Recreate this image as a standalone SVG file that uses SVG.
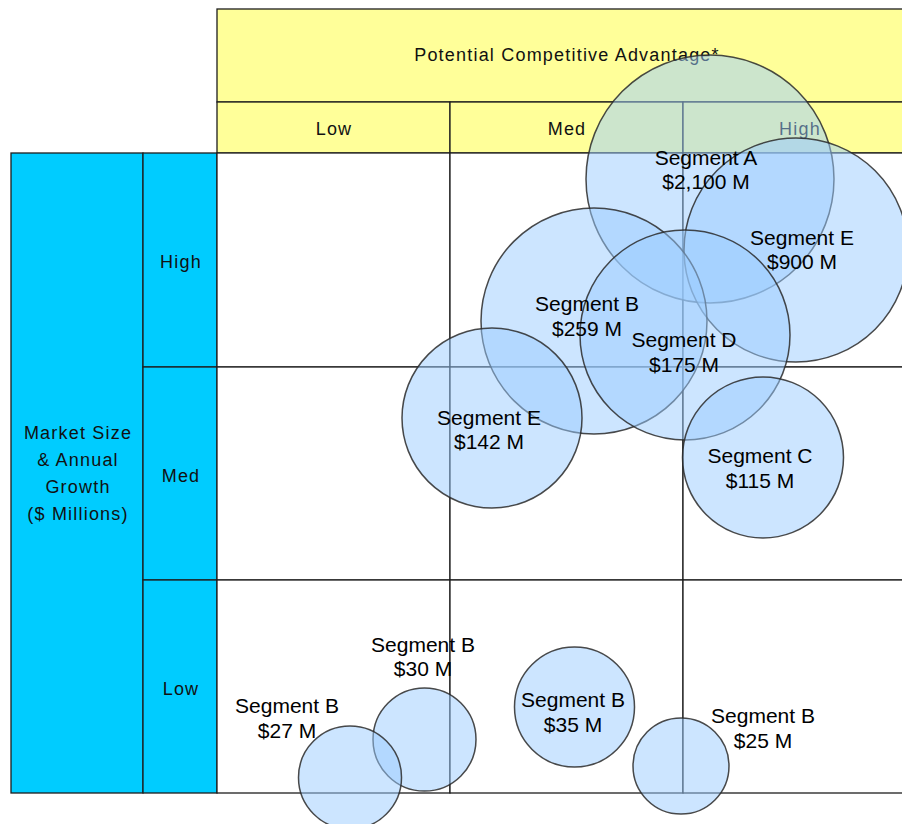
<svg xmlns="http://www.w3.org/2000/svg" width="902" height="824" viewBox="0 0 902 824">
  <style>
    .cell { stroke: #1e1e1e; stroke-width: 1.3; }
    .yellow { fill: #ffff99; }
    .blue { fill: #00ccff; }
    .axis { font-family: "Liberation Sans", Arial, sans-serif; font-size: 18px; letter-spacing: 1.2px; fill: #111; text-anchor: middle; }
    .bubble { fill: #99ccff; fill-opacity: 0.5; stroke: #2a2a2a; stroke-opacity: 0.85; stroke-width: 1.5; }
    .lbl { font-family: "Liberation Sans", Arial, sans-serif; font-size: 21px; fill: #000; text-anchor: middle; }
  </style>

  <rect width="902" height="824" fill="#ffffff"/>

  <!-- column header: title band and Low / Med / High -->
  <g id="header">
    <rect class="yellow cell" x="217" y="9" width="699" height="93"/>
    <rect class="yellow cell" x="217" y="102" width="233" height="51"/>
    <rect class="yellow cell" x="450" y="102" width="233" height="51"/>
    <rect class="yellow cell" x="683" y="102" width="233" height="51"/>
    <text class="axis" x="567" y="61">Potential Competitive Advantage*</text>
    <text class="axis" x="334" y="135">Low</text>
    <text class="axis" x="567" y="135">Med</text>
    <text class="axis" x="800" y="135">High</text>
  </g>

  <!-- row header: market size axis -->
  <g id="row-header">
    <rect class="blue cell" x="11" y="153" width="132" height="640"/>
    <rect class="blue cell" x="143" y="153" width="74" height="214"/>
    <rect class="blue cell" x="143" y="367" width="74" height="213"/>
    <rect class="blue cell" x="143" y="580" width="74" height="213"/>
    <text class="axis" x="78" y="439">Market Size</text>
    <text class="axis" x="78" y="466">&amp; Annual</text>
    <text class="axis" x="78" y="493">Growth</text>
    <text class="axis" x="78" y="520">($ Millions)</text>
    <text class="axis" x="181" y="268">High</text>
    <text class="axis" x="181" y="482">Med</text>
    <text class="axis" x="181" y="695">Low</text>
  </g>

  <!-- 3x3 matrix body -->
  <g id="grid" fill="#ffffff">
    <rect class="cell" x="217" y="153" width="233" height="214"/>
    <rect class="cell" x="450" y="153" width="233" height="214"/>
    <rect class="cell" x="683" y="153" width="233" height="214"/>
    <rect class="cell" x="217" y="367" width="233" height="213"/>
    <rect class="cell" x="450" y="367" width="233" height="213"/>
    <rect class="cell" x="683" y="367" width="233" height="213"/>
    <rect class="cell" x="217" y="580" width="233" height="213"/>
    <rect class="cell" x="450" y="580" width="233" height="213"/>
    <rect class="cell" x="683" y="580" width="233" height="213"/>
  </g>

  <!-- segment bubbles (area ~ market size) -->
  <g id="bubbles">
    <g id="seg-a-2100"><circle class="bubble" cx="710" cy="179" r="124"/></g>
    <g id="seg-e-900"><circle class="bubble" cx="796" cy="250" r="112"/></g>
    <g id="seg-b-259"><circle class="bubble" cx="594" cy="321" r="113"/></g>
    <g id="seg-d-175"><circle class="bubble" cx="685" cy="335" r="105"/></g>
    <g id="seg-e-142"><circle class="bubble" cx="492" cy="418" r="90"/></g>
    <g id="seg-c-115"><circle class="bubble" cx="763" cy="457.5" r="80.5"/></g>
    <g id="seg-b-30"><circle class="bubble" cx="424.5" cy="739.5" r="51.5"/></g>
    <g id="seg-b-27"><circle class="bubble" cx="350" cy="777.5" r="51.5"/></g>
    <g id="seg-b-35"><circle class="bubble" cx="574.5" cy="707" r="60"/></g>
    <g id="seg-b-25"><circle class="bubble" cx="681" cy="766" r="48"/></g>
  </g>

  <!-- bubble captions, kept above every bubble -->
  <g id="labels">
    <g id="seg-a-2100-label"><text class="lbl" x="706" y="165">Segment A</text><text class="lbl" x="706" y="189">$2,100 M</text></g>
    <g id="seg-e-900-label"><text class="lbl" x="802" y="245">Segment E</text><text class="lbl" x="802" y="269">$900 M</text></g>
    <g id="seg-b-259-label"><text class="lbl" x="587" y="311">Segment B</text><text class="lbl" x="587" y="336">$259 M</text></g>
    <g id="seg-d-175-label"><text class="lbl" x="684" y="347">Segment D</text><text class="lbl" x="684" y="372">$175 M</text></g>
    <g id="seg-e-142-label"><text class="lbl" x="489" y="425">Segment E</text><text class="lbl" x="489" y="449">$142 M</text></g>
    <g id="seg-c-115-label"><text class="lbl" x="760" y="463">Segment C</text><text class="lbl" x="760" y="488">$115 M</text></g>
    <g id="seg-b-30-label"><text class="lbl" x="423" y="652">Segment B</text><text class="lbl" x="423" y="676">$30 M</text></g>
    <g id="seg-b-27-label"><text class="lbl" x="287" y="713">Segment B</text><text class="lbl" x="287" y="738">$27 M</text></g>
    <g id="seg-b-35-label"><text class="lbl" x="573" y="707">Segment B</text><text class="lbl" x="573" y="732">$35 M</text></g>
    <g id="seg-b-25-label"><text class="lbl" x="763" y="723">Segment B</text><text class="lbl" x="763" y="748">$25 M</text></g>
  </g>
</svg>
